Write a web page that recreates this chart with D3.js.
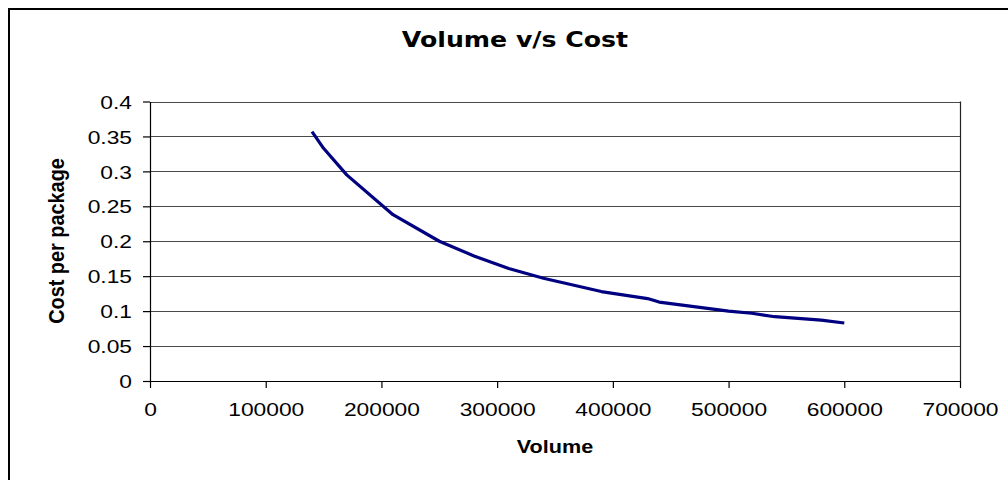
<!DOCTYPE html>
<html>
<head>
<meta charset="utf-8">
<script src="https://d3js.org/d3.v7.min.js"></script>
<style>
  html, body { margin: 0; padding: 0; background: #fff; }
  svg { display: block; }
</style>
</head>
<body>
<svg id="chart" width="1008" height="480"></svg>
<script>
// Volume handled vs. cost per package
const volumes = [140000, 150000, 170000, 210000, 250000, 280000, 310000, 340000,
                 390000, 430000, 440000, 500000, 520000, 540000, 580000, 600000];
const costs   = [0.357, 0.333, 0.295, 0.238, 0.200, 0.179, 0.161, 0.147,
                 0.128, 0.118, 0.113, 0.100, 0.097, 0.092, 0.087, 0.083];

const xTickValues = [0, 100000, 200000, 300000, 400000, 500000, 600000, 700000];
const yTickValues = [0, 0.05, 0.1, 0.15, 0.2, 0.25, 0.3, 0.35, 0.4];
const yTickLabels = ["0", "0.05", "0.1", "0.15", "0.2", "0.25", "0.3", "0.35", "0.4"];

const chartTitle = "Volume v/s Cost";
const xTitle = "Volume";
const yTitle = "Cost per package";

const svg = d3.select("#chart");
const stretch = 1.2;               // horizontal widening of the lettering
const plot = { left: 150, right: 960, top: 101.5, bottom: 381 };

const x = d3.scaleLinear().domain([0, 700000]).range([plot.left, plot.right]);
const y = d3.scaleLinear().domain([0, 0.4]).range([plot.bottom, plot.top]);

// outer chart frame
svg.append("rect")
  .attr("x", 9).attr("y", 9)
  .attr("width", 1010).attr("height", 480)
  .attr("fill", "#fff").attr("stroke", "#000").attr("stroke-width", 2);

// horizontal gridlines
svg.append("g")
  .selectAll("line")
  .data(yTickValues.slice(1))
  .join("line")
  .attr("x1", plot.left).attr("x2", plot.right)
  .attr("y1", d => Math.round(y(d)) + 0.5).attr("y2", d => Math.round(y(d)) + 0.5)
  .attr("stroke", "#4a4a4a").attr("stroke-width", 1.2);

// right edge of plot area
svg.append("line")
  .attr("x1", plot.right + 0.5).attr("x2", plot.right + 0.5)
  .attr("y1", plot.top).attr("y2", plot.bottom)
  .attr("stroke", "#222").attr("stroke-width", 1.2);

// axes
const yAxis = d3.axisLeft(y)
  .tickValues(yTickValues)
  .tickFormat((d, i) => yTickLabels[i])
  .tickSizeInner(7).tickSizeOuter(0);
const xAxis = d3.axisBottom(x)
  .tickValues(xTickValues)
  .tickFormat(d3.format("d"))
  .tickSizeInner(7).tickSizeOuter(0);

const gy = svg.append("g").attr("transform", `translate(${plot.left},0)`).call(yAxis);
const gx = svg.append("g").attr("transform", `translate(0,${plot.bottom})`).call(xAxis);

[gx, gy].forEach(g => {
  g.select(".domain").attr("stroke", "#000").attr("stroke-width", 1.2);
  g.selectAll(".tick line").attr("stroke", "#000").attr("stroke-width", 1.2);
  g.selectAll(".tick text")
    .attr("fill", "#000")
    .attr("font-family", "'Liberation Sans', Arial, sans-serif")
    .attr("font-size", 19);
});

gy.selectAll(".tick text")
  .attr("x", 0).attr("dy", "0.35em")
  .attr("transform", `translate(-18,0) scale(${stretch},1)`);

gx.selectAll(".tick text")
  .attr("y", 0).attr("dy", 0)
  .attr("transform", `translate(0,35) scale(${stretch},1)`);

// data line
const line = d3.line()
  .x((d, i) => x(volumes[i]))
  .y((d, i) => y(costs[i]));

svg.append("path")
  .datum(volumes)
  .attr("d", line)
  .attr("fill", "none")
  .attr("stroke", "#000080")
  .attr("stroke-width", 3.2)
  .attr("stroke-linejoin", "round");

// titles
svg.append("text")
  .attr("transform", `translate(515,46.5) scale(${stretch},1)`)
  .attr("text-anchor", "middle")
  .attr("font-family", "'DejaVu Sans', Verdana, sans-serif")
  .attr("font-weight", "bold")
  .attr("font-size", 21)
  .text(chartTitle);

svg.append("text")
  .attr("transform", `translate(555,453) scale(${stretch},1)`)
  .attr("text-anchor", "middle")
  .attr("font-family", "'Liberation Sans', Arial, sans-serif")
  .attr("font-weight", "bold")
  .attr("font-size", 18)
  .text(xTitle);

svg.append("text")
  .attr("transform", "translate(64,241) rotate(-90) scale(1.02,1.15)")
  .attr("text-anchor", "middle")
  .attr("font-family", "'Liberation Sans', Arial, sans-serif")
  .attr("font-weight", "bold")
  .attr("font-size", 19.5)
  .text(yTitle);
</script>
</body>
</html>
